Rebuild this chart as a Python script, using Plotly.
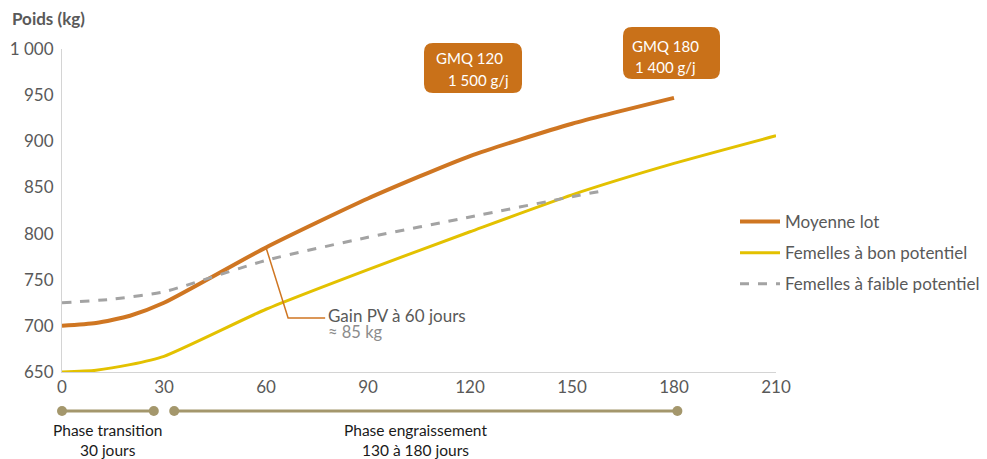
import plotly.graph_objects as go

# Growth curves (days since start -> live weight, kg)
days_lot = [0, 10, 20, 30, 60, 90, 120, 150, 180]
poids_lot = [700, 703, 711, 725, 785, 838, 884, 919, 947]

days_bon = [0, 10, 20, 30, 60, 90, 120, 150, 180, 210]
poids_bon = [650, 652, 658, 667, 718, 761, 802, 842, 876, 906]

days_faible = [0, 15, 30, 60, 90, 120, 150, 160]
poids_faible = [725, 729, 737, 771, 796, 818, 840, 847]

x_ticks = [0, 30, 60, 90, 120, 150, 180, 210]
y_ticks = [650, 700, 750, 800, 850, 900, 950, 1000]

# Phases shown under the time axis: (start day, end day, label)
phases = [
    (0, 27, "Phase transition<br>30 jours"),
    (33, 181, "Phase engraissement<br>130 à 180 jours"),
]

# GMQ call-out boxes: (label, value)
gmq_boxes = [("GMQ 120", "1 500 g/j"), ("GMQ 180", "1 400 g/j")]

ORANGE = "#CF7622"
YELLOW = "#E3C100"
GREY = "#A3A3A3"
BOX = "#C97119"
PHASE = "#A4976C"
TXT = "#595959"
FONT = "Lato, 'Open Sans', sans-serif"

X_RANGE = [0, 210]
W, H = 987, 459
L, R, T, B = 62, 211, 49, 87
PW, PH = W - L - R, H - T - B

fig = go.Figure()
fig.add_trace(go.Scatter(
    x=days_lot, y=poids_lot, mode="lines", name="Moyenne lot",
    line=dict(color=ORANGE, width=4, shape="spline", smoothing=0.6),
    legendgroup="a"))
fig.add_trace(go.Scatter(
    x=days_bon, y=poids_bon, mode="lines", name="Femelles à bon potentiel",
    line=dict(color=YELLOW, width=3, shape="spline", smoothing=0.6),
    legendgroup="b"))
fig.add_trace(go.Scatter(
    x=days_faible, y=poids_faible, mode="lines", name="Femelles à faible potentiel",
    line=dict(color=GREY, width=3, dash="dash", shape="spline", smoothing=0.6),
    legendgroup="c"))


def px_x(px):
    return (px - L) / PW


def px_y(py):
    return (H - B - py) / PH


def day_to_paper(d):
    return (d - X_RANGE[0]) / (X_RANGE[1] - X_RANGE[0])


def rounded_rect(x0, y0, x1, y1, r):
    # rectangle given in pixels, returned as a paper-coordinate path with rounded corners
    def P(x, y):
        return f"{px_x(x):.5f},{px_y(y):.5f}"
    return (f"M{P(x0 + r, y0)} L{P(x1 - r, y0)} Q{P(x1, y0)} {P(x1, y0 + r)} "
            f"L{P(x1, y1 - r)} Q{P(x1, y1)} {P(x1 - r, y1)} "
            f"L{P(x0 + r, y1)} Q{P(x0, y1)} {P(x0, y1 - r)} "
            f"L{P(x0, y0 + r)} Q{P(x0, y0)} {P(x0 + r, y0)} Z")


shapes = []
annotations = []

# GMQ boxes
box_geom = [(424, 43, 522, 93), (623, 27, 720, 79)]
line_offsets = [((469, 58), (478, 80)), ((665, 46), (665, 67))]
for (lab, val), (x0, y0, x1, y1), ((ax1, ay1), (ax2, ay2)) in zip(gmq_boxes, box_geom, line_offsets):
    shapes.append(dict(type="path", xref="paper", yref="paper",
                       path=rounded_rect(x0, y0, x1, y1, 9),
                       fillcolor=BOX, line=dict(width=0), layer="above"))
    annotations.append(dict(xref="paper", yref="paper", x=px_x(ax1), y=px_y(ay1),
                            text=lab, showarrow=False, xanchor="center", yanchor="middle",
                            font=dict(family=FONT, size=15, color="white")))
    annotations.append(dict(xref="paper", yref="paper", x=px_x(ax2), y=px_y(ay2),
                            text=val, showarrow=False, xanchor="center", yanchor="middle",
                            font=dict(family=FONT, size=15, color="white")))

# Leader line for the 60-day gain
d60 = 60
w60 = poids_lot[days_lot.index(d60)]
elbow_x, elbow_y, end_x = 66.5, 708.5, 77.4
shapes.append(dict(type="path", xref="x", yref="y",
                   path=f"M{d60},{w60} L{elbow_x},{elbow_y} L{end_x},{elbow_y}",
                   line=dict(color=ORANGE, width=1.5)))
annotations.append(dict(xref="x", yref="y", x=end_x + 0.3, y=elbow_y + 2.5,
                        text="Gain PV à 60 jours", showarrow=False,
                        xanchor="left", yanchor="middle",
                        font=dict(family=FONT, size=17, color=TXT)))
annotations.append(dict(xref="x", yref="y", x=end_x + 0.3, y=elbow_y - 15.5,
                        text=f"≈ {w60 - poids_lot[0]:.0f} kg", showarrow=False,
                        xanchor="left", yanchor="middle",
                        font=dict(family=FONT, size=16.5, color="#8C8C8C")))

# Phase bars under the axis
bar_y = px_y(411)
for start, end, label in phases:
    shapes.append(dict(type="line", xref="paper", yref="paper",
                       x0=day_to_paper(start), x1=day_to_paper(end),
                       y0=bar_y, y1=bar_y, line=dict(color=PHASE, width=3)))
    for d in (start, end):
        shapes.append(dict(type="circle", xref="paper", yref="paper",
                           xsizemode="pixel", ysizemode="pixel",
                           xanchor=day_to_paper(d), yanchor=bar_y,
                           x0=-5, x1=5, y0=-5, y1=5,
                           fillcolor=PHASE, line=dict(width=0)))

label_centres = [(13.5, 440), (104, 440)]
for (start, end, label), (cx, cy) in zip(phases, label_centres):
    annotations.append(dict(xref="paper", yref="paper", x=day_to_paper(cx), y=px_y(cy),
                            text=label, showarrow=False, xanchor="center",
                            yanchor="middle", align="center",
                            font=dict(family=FONT, size=15.5, color="#1A1A1A")))

# Axis title
annotations.append(dict(xref="paper", yref="paper", x=px_x(10), y=px_y(18),
                        text="<b>Poids (kg)</b>", showarrow=False,
                        xanchor="left", yanchor="middle",
                        font=dict(family=FONT, size=17, color=TXT)))

fig.update_layout(
    width=W, height=H,
    margin=dict(l=L, r=R, t=T, b=B, autoexpand=False),
    paper_bgcolor="white", plot_bgcolor="white",
    separators=", ",
    font=dict(family=FONT, size=17, color=TXT),
    showlegend=True,
    legend=dict(x=px_x(735), y=px_y(204), xanchor="left", yanchor="top",
                bgcolor="rgba(0,0,0,0)", font=dict(family=FONT, size=17, color=TXT),
                traceorder="grouped", tracegroupgap=6, itemwidth=40),
    xaxis=dict(range=X_RANGE, tickvals=x_ticks, showgrid=False, zeroline=False,
               showline=True, linecolor="#D4D4D4", linewidth=1, ticks="",
               tickfont=dict(family=FONT, size=17, color=TXT)),
    yaxis=dict(range=[650, 1000], tickvals=y_ticks, tickformat=",d",
               showgrid=False, zeroline=False, ticklabelstandoff=4,
               showline=True, linecolor="#D4D4D4", linewidth=1, ticks="",
               tickfont=dict(family=FONT, size=17, color=TXT)),
    shapes=shapes,
    annotations=annotations,
)

fig.write_html("out.html")
